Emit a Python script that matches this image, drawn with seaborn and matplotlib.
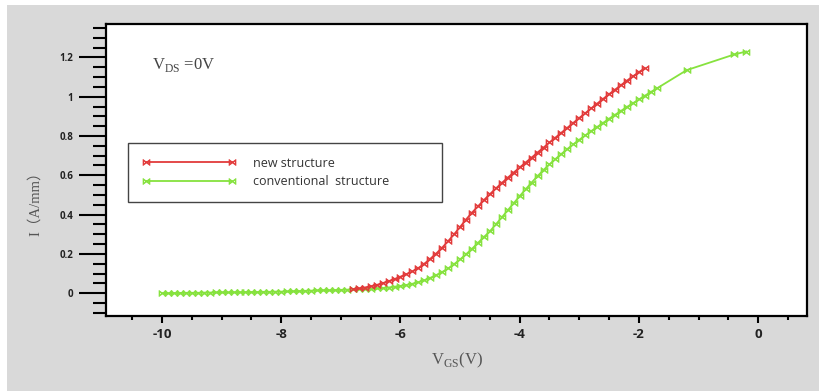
import numpy as np
import pandas as pd
import matplotlib
matplotlib.use("Agg")
import matplotlib.pyplot as plt
from matplotlib.patches import Rectangle
from matplotlib.ticker import MultipleLocator
import seaborn as sns

# ---------------- data ----------------
new_vgs = [-6.8, -6.7, -6.6, -6.5, -6.4, -6.3, -6.2, -6.1, -6.0, -5.9,
           -5.8, -5.7, -5.6, -5.5, -5.4, -5.3, -5.2, -5.1, -5.0, -4.9,
           -4.8, -4.7, -4.6, -4.5, -4.4, -4.3, -4.2, -4.1, -4.0, -3.9,
           -3.8, -3.7, -3.6, -3.5, -3.4, -3.3, -3.2, -3.1, -3.0, -2.9,
           -2.8, -2.7, -2.6, -2.5, -2.4, -2.3, -2.2, -2.1, -2.0, -1.9]
new_i = [0.020, 0.024, 0.029, 0.035, 0.042, 0.051, 0.061, 0.072, 0.084, 0.097,
         0.111, 0.128, 0.150, 0.175, 0.202, 0.232, 0.265, 0.300, 0.337, 0.375,
         0.410, 0.442, 0.474, 0.504, 0.533, 0.561, 0.588, 0.614, 0.640, 0.665,
         0.690, 0.716, 0.741, 0.767, 0.792, 0.817, 0.842, 0.867, 0.892, 0.916,
         0.941, 0.965, 0.989, 1.013, 1.036, 1.059, 1.082, 1.104, 1.125, 1.145]

conv_vgs = [-10.0, -9.9, -9.8, -9.7, -9.6, -9.5, -9.4, -9.3, -9.2, -9.1,
            -9.0, -8.9, -8.8, -8.7, -8.6, -8.5, -8.4, -8.3, -8.2, -8.1,
            -8.0, -7.9, -7.8, -7.7, -7.6, -7.5, -7.4, -7.3, -7.2, -7.1,
            -7.0, -6.9, -6.8, -6.7, -6.6, -6.5, -6.4, -6.3, -6.2, -6.1,
            -6.0, -5.9, -5.8, -5.7, -5.6, -5.5, -5.4, -5.3, -5.2, -5.1,
            -5.0, -4.9, -4.8, -4.7, -4.6, -4.5, -4.4, -4.3, -4.2, -4.1,
            -4.0, -3.9, -3.8, -3.7, -3.6, -3.5, -3.4, -3.3, -3.2, -3.1,
            -3.0, -2.9, -2.8, -2.7, -2.6, -2.5, -2.4, -2.3, -2.2, -2.1,
            -2.0, -1.9, -1.8, -1.7, -1.2, -0.4, -0.2]
conv_i = [0.000, 0.000, 0.001, 0.001, 0.002, 0.002, 0.002, 0.003, 0.003, 0.004,
          0.004, 0.004, 0.005, 0.005, 0.006, 0.006, 0.006, 0.007, 0.007, 0.008,
          0.008, 0.009, 0.010, 0.011, 0.012, 0.013, 0.014, 0.015, 0.015, 0.016,
          0.017, 0.018, 0.019, 0.020, 0.021, 0.022, 0.024, 0.026, 0.029, 0.033,
          0.037, 0.042, 0.048, 0.056, 0.066, 0.078, 0.092, 0.108, 0.126, 0.148,
          0.172, 0.198, 0.226, 0.256, 0.286, 0.315, 0.350, 0.386, 0.422, 0.458,
          0.494, 0.529, 0.563, 0.596, 0.627, 0.656, 0.683, 0.709, 0.734, 0.758,
          0.781, 0.803, 0.825, 0.846, 0.867, 0.888, 0.908, 0.928, 0.948, 0.967,
          0.986, 1.005, 1.024, 1.042, 1.135, 1.215, 1.230]

series_labels = ["new structure", "conventional  structure"]
x_ticks = [-10, -8, -6, -4, -2, 0]
y_ticks = [0, 0.2, 0.4, 0.6, 0.8, 1.0, 1.2]
y_tick_labels = ["0", "0.2", "0.4", "0.6", "0.8", "1", "1.2"]

# ---------------- style ----------------
plt.rcParams['axes.unicode_minus'] = False
plt.rcParams['font.family'] = ['Open Sans', 'DejaVu Sans']

RED = "#e23b3b"
GREEN = "#86e23e"

W, H = 820, 391
fig = plt.figure(figsize=(W / 100, H / 100), dpi=100, facecolor="white")
fig.patches.append(Rectangle((7 / W, 0), 1 - 7 / W, 1 - 5 / H,
                             transform=fig.transFigure, facecolor="#d9d9d9",
                             edgecolor="none", zorder=-10))

ax = fig.add_axes([106 / W, (H - 316) / H, (807 - 106) / W, (316 - 24) / H])
ax.set_facecolor("white")

df_new = pd.DataFrame({"VGS": new_vgs, "I": new_i})
df_conv = pd.DataFrame({"VGS": conv_vgs, "I": conv_i})

mk = r"$\bowtie$"
sns.lineplot(data=df_new, x="VGS", y="I", ax=ax, color=RED, lw=1.3,
             marker=mk, markersize=5, markeredgewidth=0.5,
             markeredgecolor=RED, label=series_labels[0], zorder=3)
sns.lineplot(data=df_conv, x="VGS", y="I", ax=ax, color=GREEN, lw=1.3,
             marker=mk, markersize=5, markeredgewidth=0.5,
             markeredgecolor=GREEN, label=series_labels[1], zorder=2)

ax.set_xlim(-10.94, 0.82)
ax.set_ylim(-0.116, 1.37)

ax.xaxis.set_minor_locator(MultipleLocator(0.5))
ax.yaxis.set_minor_locator(MultipleLocator(0.05))
ax.set_xticks(x_ticks)
ax.set_yticks(y_ticks)
ax.set_yticklabels(y_tick_labels)
ax.set_xticklabels([str(v) for v in x_ticks])

for s in ax.spines.values():
    s.set_linewidth(1.6)
    s.set_color("black")

ax.tick_params(axis="y", which="major", direction="out", length=19.5,
               width=1.5, pad=4, labelsize=7, labelcolor="#222222")
ax.tick_params(axis="y", which="minor", direction="out", length=9.5, width=1.5)
ax.tick_params(axis="x", which="major", direction="out", length=5,
               width=1.5, pad=4, labelsize=9.5, labelcolor="#222222")
ax.tick_params(axis="x", which="minor", direction="out", length=3, width=1.5)
for lab in ax.get_xticklabels() + ax.get_yticklabels():
    lab.set_fontweight("bold")

ax.set_xlabel("")
ax.set_ylabel("")
fig.text(457 / W, 1 - 360 / H, r"V$_{\mathregular{GS}}$(V)",
         family="Liberation Serif", fontsize=12, color="#555555",
         ha="center", va="center")
fig.text(35 / W, 1 - 200 / H, "I（A/mm）", rotation=90,
         family=["Liberation Serif", "Noto Sans CJK SC"], fontsize=10.5,
         color="#555555", ha="center", va="center")
ax.text(0.066, 0.86, r"V$_{\mathregular{DS}}$ =0V", transform=ax.transAxes,
        family="Liberation Serif", fontsize=12, color="#444444",
        ha="left", va="center")

x0 = (128 - 106) / 701
y1 = (316 - 143) / 292
leg = ax.legend(loc="upper left", bbox_to_anchor=(x0, y1, (442 - 128) / 701, 0.0),
                mode="expand", borderaxespad=0, fontsize=9, handlelength=7.5,
                handletextpad=1.4, labelspacing=0.45, borderpad=1.1,
                fancybox=False, framealpha=1, edgecolor="#444444",
                numpoints=2, markerscale=1.0)
leg.get_frame().set_linewidth(1.0)
for t in leg.get_texts():
    t.set_color("#333333")

fig.savefig("out.png", dpi=100, facecolor=fig.get_facecolor())
